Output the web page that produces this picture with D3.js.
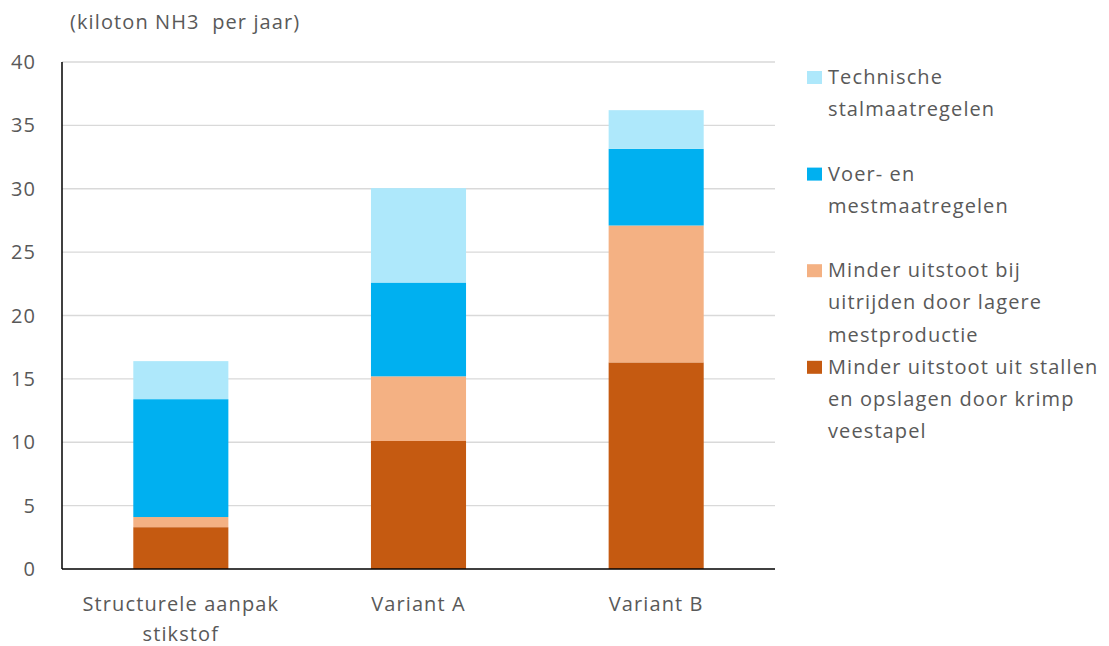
<!DOCTYPE html>
<html>
<head>
<meta charset="utf-8">
<script src="https://cdn.jsdelivr.net/npm/d3@7"></script>
<style>
  body { margin: 0; background: #fff; }
  svg text { font-family: "Open Sans", sans-serif; fill: #595959; letter-spacing: 1.1px; }
</style>
</head>
<body>
<svg id="chart" width="1109" height="646" viewBox="0 0 1109 646"></svg>
<script>
// categories and series (kiloton NH3 per jaar)
const categories = ["Structurele aanpak stikstof", "Variant A", "Variant B"];
const categoryLines = [["Structurele aanpak", "stikstof"], ["Variant A"], ["Variant B"]];
const krimpStallen = [3.3, 10.1, 16.3];
const krimpUitrijden = [0.8, 5.1, 10.8];
const voerMest = [9.3, 7.4, 6.05];
const technisch = [3.0, 7.45, 3.05];
const seriesNames = ["krimpStallen", "krimpUitrijden", "voerMest", "technisch"];
const seriesLabels = [
    ["Minder uitstoot uit stallen", "en opslagen door krimp", "veestapel"],
    ["Minder uitstoot bij", "uitrijden door lagere", "mestproductie"],
    ["Voer- en", "mestmaatregelen"],
    ["Technische", "stalmaatregelen"]
];
const seriesColors = ["#C55A11", "#F4B183", "#00B0F0", "#AEE8FB"];
const yTicks = [0, 5, 10, 15, 20, 25, 30, 35, 40];

const rows = categories.map((c, i) => ({
    cat: c,
    krimpStallen: krimpStallen[i],
    krimpUitrijden: krimpUitrijden[i],
    voerMest: voerMest[i],
    technisch: technisch[i]
}));

const svg = d3.select("#chart");
const margin = { top: 62, right: 334, bottom: 77, left: 62 };
const width = 1109 - margin.left - margin.right;
const height = 646 - margin.top - margin.bottom;

const g = svg.append("g").attr("transform", `translate(${margin.left},${margin.top})`);

const x = d3.scaleBand().domain(categories).range([0, width])
    .paddingInner(0.6).paddingOuter(0.3);
const y = d3.scaleLinear().domain([0, 40]).range([height, 0]);

// gridlines
g.append("g")
    .selectAll("line")
    .data(yTicks.slice(1))
    .join("line")
    .attr("x1", 0).attr("x2", width)
    .attr("y1", d => y(d)).attr("y2", d => y(d))
    .attr("stroke", "#D9D9D9").attr("stroke-width", 1.3);

// stacked bars
const stacked = d3.stack().keys(seriesNames)(rows);
g.selectAll("g.layer")
    .data(stacked)
    .join("g")
    .attr("class", "layer")
    .attr("fill", (d, i) => seriesColors[i])
    .selectAll("rect")
    .data(d => d)
    .join("rect")
    .attr("x", d => x(d.data.cat))
    .attr("width", x.bandwidth())
    .attr("y", d => y(d[1]))
    .attr("height", d => y(d[0]) - y(d[1]));

// axis lines
g.append("line").attr("x1", 0).attr("x2", 0).attr("y1", 0).attr("y2", height)
    .attr("stroke", "#000").attr("stroke-width", 1.5);
g.append("line").attr("x1", 0).attr("x2", width).attr("y1", height).attr("y2", height)
    .attr("stroke", "#000").attr("stroke-width", 1.5);

// y tick labels
g.selectAll("text.ytick")
    .data(yTicks)
    .join("text")
    .attr("class", "ytick")
    .attr("x", -26)
    .attr("y", d => y(d))
    .attr("dy", "0.35em")
    .attr("text-anchor", "end")
    .attr("font-size", 20)
    .text(d => d);

// x category labels
categoryLines.forEach((lines, i) => {
    const cx = x(categories[i]) + x.bandwidth() / 2;
    const t = g.append("text")
        .attr("x", cx)
        .attr("y", height + 42)
        .attr("text-anchor", "middle")
        .attr("font-size", 20);
    lines.forEach((l, j) => {
        t.append("tspan").attr("x", cx).attr("dy", j === 0 ? 0 : 30).text(l);
    });
});

// unit title
svg.append("text")
    .attr("x", 70).attr("y", 29)
    .attr("font-size", 20)
    .style("white-space", "pre")
    .text("(kiloton NH3  per jaar)");

// legend (top to bottom: reverse of stack order), each entry takes 3 line slots
const legendOrder = [3, 2, 1, 0];
const lineH = 32.2;
legendOrder.forEach((si, k) => {
    const top = 77 + k * 3 * lineH;
    svg.append("rect")
        .attr("x", 807).attr("y", top - 6)
        .attr("width", 15).attr("height", 13)
        .attr("fill", seriesColors[si]);
    const t = svg.append("text").attr("x", 828).attr("y", top)
        .attr("font-size", 20);
    seriesLabels[si].forEach((l, j) => {
        t.append("tspan").attr("x", 828).attr("dy", j === 0 ? "0.35em" : lineH).text(l);
    });
});
</script>
</body>
</html>
